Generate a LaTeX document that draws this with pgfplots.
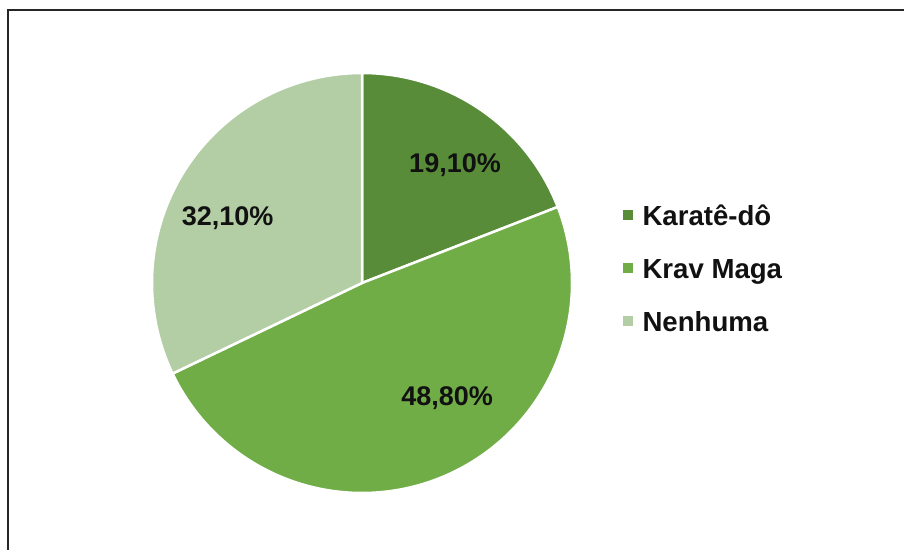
\documentclass[border=0pt]{standalone}
\usepackage{pgfplots}
\pgfplotsset{compat=1.18}
\usepackage{fontspec}
\setmainfont{Liberation Sans}
\definecolor{karate}{HTML}{588C39}
\definecolor{krav}{HTML}{70AD47}
\definecolor{nenhuma}{HTML}{B3CEA4}
\definecolor{txt}{HTML}{111111}
% shares in percent
\def\vKarate{19.1}
\def\vKrav{48.8}
\def\vNenhuma{32.1}
\pgfmathsetmacro\aA{90}
\pgfmathsetmacro\aB{\aA-\vKarate*3.6}
\pgfmathsetmacro\aC{\aB-\vKrav*3.6}
\pgfmathsetmacro\aD{\aC-\vNenhuma*3.6}
\newcommand{\bigfont}{\fontsize{27}{32}\selectfont\bfseries}
\newcommand{\legfont}{\fontsize{27.6}{32}\selectfont\bfseries}
\begin{document}
\begin{tikzpicture}[x=1pt,y=1pt]
\useasboundingbox (0,0) rectangle (904,549);
\draw[line width=2pt, black!85] (8,-1) -- (8,539) -- (905,539);
\begin{axis}[at={(362pt,266pt)}, anchor=origin, scale only axis,
  width=420pt, height=420pt, xmin=-1, xmax=1, ymin=-1, ymax=1,
  hide axis, clip=false,
  legend style={at={(axis cs:1.243,0.057)}, anchor=west, draw=none, fill=none,
    inner sep=0pt, outer sep=0pt, font=\legfont, text=txt,
    nodes={text height=20pt, text depth=6pt, inner sep=0pt},
    row sep=27pt, legend cell align=left,
    /tikz/every odd column/.append style={column sep=10pt}},
  legend image code/.code={\path[#1,draw=none] (0pt,-1.5pt) rectangle (9.5pt,8pt);},
]
\addplot[fill=karate, draw=white, line width=2.5pt, line join=round, domain=\aB:\aA, samples=120, variable=\t]
  ({cos(t)},{sin(t)}) -- (axis cs:0,0) -- cycle;
\addlegendentry{Karatê-dô}
\addplot[fill=krav, draw=white, line width=2.5pt, line join=round, domain=\aC:\aB, samples=200, variable=\t]
  ({cos(t)},{sin(t)}) -- (axis cs:0,0) -- cycle;
\addlegendentry{Krav Maga}
\addplot[fill=nenhuma, draw=white, line width=2.5pt, line join=round, domain=\aD:\aC, samples=150, variable=\t]
  ({cos(t)},{sin(t)}) -- (axis cs:0,0) -- cycle;
\addlegendentry{Nenhuma}
\node[font=\bigfont, text=txt, anchor=base] at (axis cs:0.443,0.524) {19,10\%};
\node[font=\bigfont, text=txt, anchor=base] at (axis cs:0.405,-0.581) {48,80\%};
\node[font=\bigfont, text=txt, anchor=base] at (axis cs:-0.640,0.276) {32,10\%};
\end{axis}
\end{tikzpicture}
\end{document}
